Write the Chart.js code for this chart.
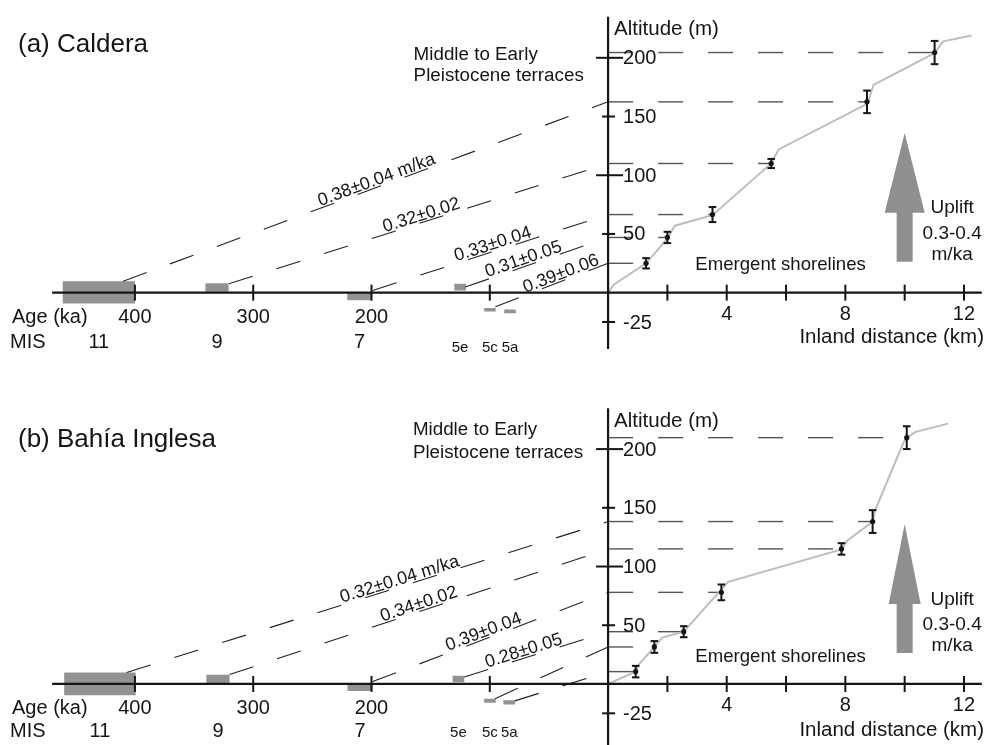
<!DOCTYPE html>
<html>
<head>
<meta charset="utf-8">
<script src="https://cdn.jsdelivr.net/npm/chart.js@4.4.1/dist/chart.umd.min.js"></script>
<style>
  html, body { margin: 0; padding: 0; background: #fff; }
  #wrap { position: relative; width: 990px; height: 745px; overflow: hidden; }
  #wrap canvas { position: absolute; left: 0; }
  #ca { top: 0; }
  #cb { top: 372px; }
</style>
</head>
<body>
<div id="wrap">
  <canvas id="ca" width="990" height="372"></canvas>
  <canvas id="cb" width="990" height="373"></canvas>
</div>
<script>
/* ---- shared axis ticks ---- */
const ageTicks = [400, 300, 200, 100];
const ageTickLabels = [400, 300, 200];
const distTicks = [2, 4, 6, 8, 10, 12];
const distTickLabels = [4, 8, 12];
const altTicks = [200, 150, 100, 50, -25];
const altMajorTicks = [200, 100];
const misNames = ['11', '9', '7', '5e', '5c', '5a'];

/* ---- (a) Caldera ---- */
const calderaMisAge = [[400, 461], [320.8, 340.4], [199.6, 220.5], [120.2, 130], [95, 104.8], [78, 87.8]];
const calderaMisAlt = [[-9.2, 9.75], [0.8, 8], [-6.4, 0], [1.9, 7.5], [-16, -13], [-17.5, -14.4]];
const calderaProfileDist = [0, 0.2, 1.28, 2.0, 2.25, 3.52, 5.5, 5.75, 8.75, 8.95, 11.0, 11.3, 12.25];
const calderaProfileAlt = [0, 7, 25, 46, 57, 66, 110, 122, 161, 177, 204, 214, 219];
const calderaTerraceDist = [1.28, 2.0, 3.52, 5.5, 8.73, 11.01];
const calderaTerraceAlt = [25, 47, 66.5, 110, 162.5, 204.5];
const calderaTerraceErr = [4.4, 4.8, 6.4, 3.9, 9.6, 9.9];
const calderaSlopeAge = [410, 320.6, 199, 120.7, 95.3];
const calderaSlopeAlt = [9.75, 7.5, 1.9, 4.75, -12];
const calderaSlopeTarget = [4, 3, 2, 1, 0];
const calderaRates = ['0.38±0.04 m/ka', '0.32±0.02', '0.33±0.04', '0.31±0.05', '0.39±0.06'];

/* ---- (b) Bahía Inglesa ---- */
const bahiaMisAge = [[399.4, 459.8], [320, 339.6], [199.2, 220.2], [121.6, 131.4], [95, 104.8], [78.6, 88.5]];
const bahiaMisAlt = [[-9.7, 9.75], [0.6, 7.8], [-6, 0], [1.4, 7], [-16, -12.5], [-17.5, -13.8]];
const bahiaProfileDist = [0, 0.93, 1.04, 1.56, 1.82, 2.55, 4.05, 7.87, 8.06, 8.92, 9.0, 9.96, 10.07, 10.35, 11.46];
const bahiaProfileAlt = [0, 10.5, 16.7, 31.5, 39.5, 44.5, 87, 114.5, 122, 138.3, 147.7, 205.6, 209.75, 214.5, 221.7];
const bahiaTerraceDist = [0.93, 1.56, 2.55, 3.82, 7.87, 8.92, 10.07];
const bahiaTerraceAlt = [10.5, 31.5, 44.5, 78, 115, 138.3, 209.75];
const bahiaTerraceErr = [4.9, 5, 4.7, 6.7, 4.9, 9.7, 9.7];
const bahiaSlopeAge = [407, 320, 199, 121.6, 95.6, 78.8];
const bahiaSlopeAlt = [9.75, 8, 2, 6, -12.5, -14.4];
const bahiaSlopeTarget = [5, 4, 3, 2, 1, 0];
const bahiaRates = ['0.32±0.04 m/ka', '0.34±0.02', '0.39±0.04', '0.28±0.05', '', ''];

/* ---- layout (pixels / anchors, kept apart from the data) ---- */
const FONT = '"Liberation Sans", Arial, Helvetica, sans-serif';
const X0 = 609, PX_KM = 29.9, PX_KA = 1.1925, PX_M = 1.2, W = 990;

const panels = [
  {
    canvas: 'ca', height: 372, axisY: 295, title: '(a) Caldera',
    misAge: calderaMisAge, misAlt: calderaMisAlt,
    profileDist: calderaProfileDist, profileAlt: calderaProfileAlt,
    terraceDist: calderaTerraceDist, terraceAlt: calderaTerraceAlt, terraceErr: calderaTerraceErr,
    slopeAge: calderaSlopeAge, slopeAlt: calderaSlopeAlt, slopeTarget: calderaSlopeTarget, rates: calderaRates,
    rateAt: [193.7, 156, 95.6, 69.6, 37.7],
    vTop: 235, vBottom: -48, titleY: 45, middleAt: [164.4, 202.5, 185], misDy: 50, subDy: 55, inlandDy: 45, headHalf: 20
  },
  {
    canvas: 'cb', height: 373, axisY: 314.7, title: '(b) Bahía Inglesa',
    misAge: bahiaMisAge, misAlt: bahiaMisAlt,
    profileDist: bahiaProfileDist, profileAlt: bahiaProfileAlt,
    terraceDist: bahiaTerraceDist, terraceAlt: bahiaTerraceAlt, terraceErr: bahiaTerraceErr,
    slopeAge: bahiaSlopeAge, slopeAlt: bahiaSlopeAlt, slopeTarget: bahiaSlopeTarget, rates: bahiaRates,
    rateAt: [174.4, 158, 103.1, 69.6],
    vTop: 234.75, vBottom: -60, titleY: 68, middleAt: [165, 216.4, 197.25], misDy: 48, subDy: 49, inlandDy: 46.3, headHalf: 16
  }
];

function pts(xs, ys) { return xs.map((x, i) => ({ x: x, y: ys[i] })); }

function rect(a, h) {
  return [{ x: a[0], y: h[0] }, { x: a[1], y: h[0] }, { x: a[1], y: h[1] }, { x: a[0], y: h[1] }, { x: a[0], y: h[0] }];
}

function buildDatasets(p) {
  const ds = [];
  // terrace markers on top
  ds.push({
    xAxisID: 'dist', yAxisID: 'y', data: pts(p.terraceDist, p.terraceAlt),
    pointRadius: 2.6, pointBackgroundColor: '#111', pointBorderWidth: 0, showLine: false
  });
  // topographic profile
  ds.push({
    xAxisID: 'dist', yAxisID: 'y', data: pts(p.profileDist, p.profileAlt),
    showLine: true, borderColor: '#bdbdbd', borderWidth: 2, pointRadius: 0
  });
  // horizontal dashed lines from the altitude axis to each terrace
  p.terraceDist.forEach((d, i) => {
    ds.push({
      xAxisID: 'dist', yAxisID: 'y',
      data: [{ x: 0, y: p.terraceAlt[i] }, { x: d, y: p.terraceAlt[i] }],
      showLine: true, borderColor: '#555', borderWidth: 1.4, borderDash: [25, 25], pointRadius: 0
    });
  });
  // sloped uplift lines from the MIS highstands
  p.slopeAge.forEach((a, i) => {
    ds.push({
      xAxisID: 'age', yAxisID: 'y',
      data: [{ x: a, y: p.slopeAlt[i] }, { x: 0, y: p.terraceAlt[p.slopeTarget[i]] }],
      showLine: true, borderColor: '#222', borderWidth: 1.1, borderDash: [25, 25], pointRadius: 0
    });
  });
  // MIS boxes
  p.misAge.forEach((a, i) => {
    ds.push({
      xAxisID: 'age', yAxisID: 'y', data: rect(a, p.misAlt[i]),
      showLine: true, fill: 'shape', backgroundColor: '#929294',
      borderColor: 'rgba(0,0,0,0)', borderWidth: 1, pointRadius: 0
    });
  });
  return ds;
}

function makeDecor(p) {
  return {
    id: 'decor',
    afterDatasetsDraw(chart) {
      const ctx = chart.ctx;
      const sd = chart.scales.dist, sa = chart.scales.age, sy = chart.scales.y;
      const X = d => sd.getPixelForValue(d);
      const A = a => sa.getPixelForValue(a);
      const Y = v => sy.getPixelForValue(v);
      const y0 = Y(0), x0 = X(0);

      const seg = (x1, y1, x2, y2) => { ctx.beginPath(); ctx.moveTo(x1, y1); ctx.lineTo(x2, y2); ctx.stroke(); };
      const txt = (s, x, y, size, align) => {
        ctx.font = size + 'px ' + FONT;
        ctx.textAlign = align || 'center';
        ctx.textBaseline = 'middle';
        ctx.fillText(s, x, y);
      };

      ctx.save();
      ctx.strokeStyle = '#151515';
      ctx.fillStyle = '#151515';
      ctx.lineCap = 'butt';

      // error bars
      ctx.lineWidth = 2;
      p.terraceDist.forEach((d, i) => {
        const x = X(d), t = Y(p.terraceAlt[i] + p.terraceErr[i]), b = Y(p.terraceAlt[i] - p.terraceErr[i]);
        seg(x, t, x, b);
        seg(x - 3.8, t, x + 3.8, t);
        seg(x - 3.8, b, x + 3.8, b);
      });

      // axes
      ctx.lineWidth = 2.2;
      seg(A(470), y0, X(12.6), y0);
      seg(x0, Y(p.vTop), x0, Y(p.vBottom));
      ctx.lineWidth = 2;
      ageTicks.forEach(a => seg(A(a), y0 - 8, A(a), y0 + 8));
      distTicks.forEach(d => seg(X(d), y0 - 8, X(d), y0 + 8));
      altTicks.forEach(v => {
        const big = altMajorTicks.includes(v);
        seg(x0 - (big ? 12 : 6), Y(v), x0 + (big ? 15 : 7), Y(v));
      });

      // tick labels
      ageTickLabels.forEach(a => txt(String(a), A(a), y0 + 25, 20));
      distTickLabels.forEach(d => txt(String(d), X(d), y0 + 22, 20));
      altTicks.forEach(v => txt(String(v), x0 + 15, Y(v) + 1, 20, 'left'));
      txt('Age (ka)', 12, y0 + 25, 20, 'left');
      txt('MIS', 10, y0 + p.misDy, 20, 'left');
      misNames.forEach((n, i) => {
        const c = (p.misAge[i][0] + p.misAge[i][1]) / 2;
        if (i < 3) txt(n, A(c), y0 + p.misDy, 20);
        else txt(n, A(c), y0 + p.subDy, 15);
      });
      txt('Inland distance (km)', 984, y0 + p.inlandDy, 20.5, 'right');
      txt('Altitude (m)', x0 + 6, Y(224), 20.5, 'left');

      // uplift arrow
      const ax = X(10);
      ctx.fillStyle = '#8f8f91';
      ctx.beginPath();
      ctx.moveTo(ax, Y(136));
      ctx.lineTo(ax + p.headHalf, Y(68));
      ctx.lineTo(ax + 8, Y(68));
      ctx.lineTo(ax + 8, Y(26.4));
      ctx.lineTo(ax - 8, Y(26.4));
      ctx.lineTo(ax - 8, Y(68));
      ctx.lineTo(ax - p.headHalf, Y(68));
      ctx.closePath();
      ctx.fill();
      ctx.fillStyle = '#151515';
      txt('Uplift', X(11.6), Y(72), 19);
      txt('0.3-0.4', X(11.6), Y(50), 19);
      txt('m/ka', X(11.6), Y(32.5), 19);

      txt('Emergent shorelines', X(2.94), Y(23.3), 18.6, 'left');
      txt('Middle to Early', A(p.middleAt[0]), Y(p.middleAt[1]), 18.8, 'left');
      txt('Pleistocene terraces', A(p.middleAt[0]), Y(p.middleAt[2]), 18.8, 'left');
      txt(p.title, 18, p.titleY, 26, 'left');

      // uplift-rate labels along the sloped lines
      ctx.font = '18px ' + FONT;
      ctx.textAlign = 'center';
      ctx.textBaseline = 'alphabetic';
      p.rateAt.forEach((la, i) => {
        if (!p.rates[i]) return;
        const x1 = A(p.slopeAge[i]), y1 = Y(p.slopeAlt[i]);
        const x2 = A(0), y2 = Y(p.terraceAlt[p.slopeTarget[i]]);
        const x = A(la);
        const y = y1 + (x - x1) / (x2 - x1) * (y2 - y1);
        ctx.save();
        ctx.translate(x, y);
        ctx.rotate(Math.atan2(y2 - y1, x2 - x1));
        ctx.fillText(p.rates[i], 0, -2);
        ctx.restore();
      });
      ctx.restore();
    }
  };
}

panels.forEach(p => {
  const H = p.height;
  new Chart(document.getElementById(p.canvas), {
    type: 'scatter',
    data: { datasets: buildDatasets(p) },
    options: {
      responsive: false,
      animation: false,
      events: [],
      layout: { padding: 0 },
      plugins: { legend: { display: false }, tooltip: { enabled: false } },
      scales: {
        dist: { type: 'linear', axis: 'x', display: false, min: -X0 / PX_KM, max: (W - X0) / PX_KM },
        age: { type: 'linear', axis: 'x', display: false, reverse: true, min: (X0 - W) / PX_KA, max: X0 / PX_KA },
        y: { type: 'linear', axis: 'y', display: false, min: (p.axisY - H) / PX_M, max: p.axisY / PX_M }
      }
    },
    plugins: [makeDecor(p)]
  });
});
</script>
</body>
</html>
